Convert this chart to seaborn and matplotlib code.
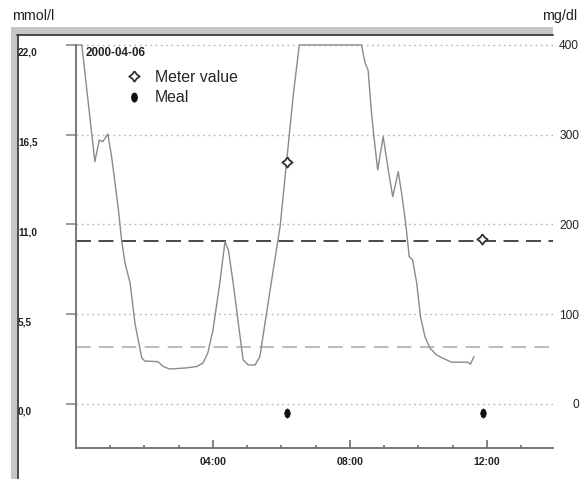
import matplotlib
matplotlib.use("Agg")
import matplotlib.pyplot as plt
import matplotlib.transforms as mtransforms
from matplotlib.patches import Rectangle
from matplotlib.lines import Line2D
import seaborn as sns
import pandas as pd

# sensor trace, hours since midnight / mmol/l (values above 22 shown clipped)
time_h = [0.0, 0.17, 0.55, 0.68, 0.78, 0.93, 1.04, 1.24, 1.33, 1.43,
          1.58, 1.72, 1.92, 2.01, 2.39, 2.55, 2.74, 3.23, 3.52, 3.71,
          3.85, 4.0, 4.20, 4.35, 4.45, 4.59, 4.74, 4.88, 5.03, 5.23,
          5.37, 5.52, 5.76, 5.96, 6.15, 6.34, 6.52, 8.34, 8.44, 8.53,
          8.63, 8.70, 8.81, 8.97, 9.12, 9.25, 9.41, 9.51, 9.64, 9.73,
          9.83, 9.95, 10.06, 10.19, 10.34, 10.53, 10.72, 10.82, 10.97, 11.21,
          11.45, 11.52, 11.62]
glucose = [22.0, 22.0, 14.85, 16.18, 16.07, 16.54, 15.15, 11.89, 10.05, 8.64,
           7.41, 4.96, 2.82, 2.63, 2.59, 2.29, 2.14, 2.21, 2.29, 2.51,
           3.13, 4.53, 7.41, 9.94, 9.44, 7.41, 4.96, 2.70, 2.39, 2.39,
           2.90, 4.96, 8.21, 10.86, 14.85, 18.83, 22.0, 22.0, 20.9, 20.47,
           17.83, 16.38, 14.34, 16.38, 14.34, 12.70, 14.23, 12.91, 10.86, 9.03,
           8.82, 7.41, 5.35, 4.12, 3.41, 3.00, 2.80, 2.70, 2.56, 2.56,
           2.56, 2.43, 2.90]

meter_h = [6.15, 11.87]
meter_val = [14.85, 10.1]
meal_h = [6.16, 11.88]

high_limit = 10.0
low_limit = 3.5

mmol_ticks = [0.0, 5.5, 11.0, 16.5, 22.0]
mmol_labels = ["0,0", "5,5", "11,0", "16,5", "22,0"]
mgdl_ticks = [0, 100, 200, 300, 400]
hour_ticks = [4, 8, 12]
hour_labels = ["04:00", "08:00", "12:00"]
date_label = "2000-04-06"

sns.set_style("white")
plt.rcParams["font.family"] = ["Liberation Sans", "DejaVu Sans"]

W, H = 588, 479
fig = plt.figure(figsize=(W / 100, H / 100), dpi=100)
ax = fig.add_axes([76 / W, 1 - 448 / H, (553 - 76) / W, (448 - 35) / H])

# window-like grey frame
fig.add_artist(Rectangle((11 / W, 1 - 35 / H), (553 - 11) / W, 8 / H,
                         transform=fig.transFigure, color="#c6c6c6", lw=0))
fig.add_artist(Rectangle((11 / W, 0), 6 / W, 1 - 27 / H,
                         transform=fig.transFigure, color="#c6c6c6", lw=0))
fig.add_artist(Line2D([17 / W, 553 / W], [1 - 34.5 / H, 1 - 34.5 / H],
                      transform=fig.transFigure, color="#3a3a3a", lw=1.3))
fig.add_artist(Line2D([17.5 / W, 17.5 / W], [0, 1 - 34.5 / H],
                      transform=fig.transFigure, color="#3a3a3a", lw=1.3))

# grid and limits
for v in mmol_ticks:
    ax.axhline(v, color="#b4b4b4", lw=1, linestyle=(0, (1.2, 2.6)), zorder=1)
ax.axhline(high_limit, color="#2a2a2a", lw=1.2, linestyle=(0, (9, 4.5)), zorder=1)
ax.axhline(low_limit, color="#bdbdbd", lw=1.5, linestyle=(0, (7, 4)), zorder=1)

df = pd.DataFrame({"t": time_h, "g": glucose})
sns.lineplot(data=df, x="t", y="g", ax=ax, color="#8a8a8a", lw=1.0,
             estimator=None, sort=False, zorder=3)

# marker shapes
star = [(0, 1), (0.42, 0.42), (1, 0), (0.42, -0.42), (0, -1),
        (-0.42, -0.42), (-1, 0), (-0.42, 0.42), (0, 1)]
meal_shape = [(0.62 * x, y) for x, y in
              [(0, 1), (0.7, 0.7), (1, 0), (0.7, -0.7), (0, -1),
               (-0.7, -0.7), (-1, 0), (-0.7, 0.7), (0, 1)]]

sns.scatterplot(x=meter_h, y=meter_val, ax=ax, marker=star, s=55,
                facecolor="white", edgecolor="#333333", linewidth=1.3, zorder=5)
sns.scatterplot(x=meal_h, y=[-0.55] * len(meal_h), ax=ax, marker=meal_shape,
                s=45, color="#111111", edgecolor="#111111", linewidth=0.5, zorder=5)

ax.set_xlim(0, 13.93)
ax.set_ylim(-2.70, 22.61)
ax.set_xlabel("")
ax.set_ylabel("")

for side in ["top", "right"]:
    ax.spines[side].set_visible(False)
ax.spines["left"].set_bounds(-2.70, 22.0)
for side in ["left", "bottom"]:
    ax.spines[side].set_color("#6e6e6e")
    ax.spines[side].set_linewidth(1.3)

ax.set_xticks(hour_ticks, labels=hour_labels)
ax.set_xticks(range(1, 14), minor=True)
ax.tick_params(axis="x", which="major", bottom=True, direction="in", length=5.8,
               width=1.2, color="#6e6e6e", pad=6.5, labelsize=7.6,
               labelcolor="#222222")
ax.tick_params(axis="x", which="minor", bottom=True, direction="in", length=2.2,
               width=1.2, color="#6e6e6e")
for lab in ax.get_xticklabels():
    lab.set_fontweight("bold")

ax.set_yticks(mmol_ticks, labels=mmol_labels, ha="left", fontweight="bold")
ax.tick_params(axis="y", left=True, direction="out", length=7.2, width=1.2,
               color="#8a8a8a", pad=34.5, labelsize=7.2, labelcolor="#222222")
shift = mtransforms.ScaledTranslation(0, -7 / 100, fig.dpi_scale_trans)
for lab in ax.get_yticklabels():
    lab.set_transform(lab.get_transform() + shift)

sec = ax.secondary_yaxis("right", functions=(lambda m: m * 400 / 22,
                                              lambda d: d * 22 / 400))
sec.set_yticks(mgdl_ticks, labels=[str(v) for v in mgdl_ticks], ha="right")
sec.tick_params(length=0, pad=18.7, labelsize=8.6, labelcolor="#222222")
sec.spines["right"].set_visible(False)

ax.text(10 / 477, (448 - 53) / 413, date_label, transform=ax.transAxes,
        ha="left", va="center", fontsize=8.4, fontweight="bold", color="#222222")

handles = [Line2D([], [], ls="none", marker=star, ms=7.5, mfc="white",
                  mec="#333333", mew=1.3, label="Meter value"),
           Line2D([], [], ls="none", marker=meal_shape, ms=6.5, mfc="#111111",
                  mec="#111111", label="Meal")]
ax.legend(handles=handles, loc="upper left",
          bbox_to_anchor=(126 / W, 1 - 70 / H), bbox_transform=fig.transFigure,
          frameon=False, fontsize=11.4, handlelength=1.0, handletextpad=0.83,
          labelspacing=0.33, borderpad=0, borderaxespad=0)

fig.text(12 / W, 1 - 16 / H, "mmol/l", ha="left", va="center", fontsize=10.3,
         color="#222222")
fig.text(577 / W, 1 - 16 / H, "mg/dl", ha="right", va="center", fontsize=10.3,
         color="#222222")

fig.savefig("out.png", dpi=100)
